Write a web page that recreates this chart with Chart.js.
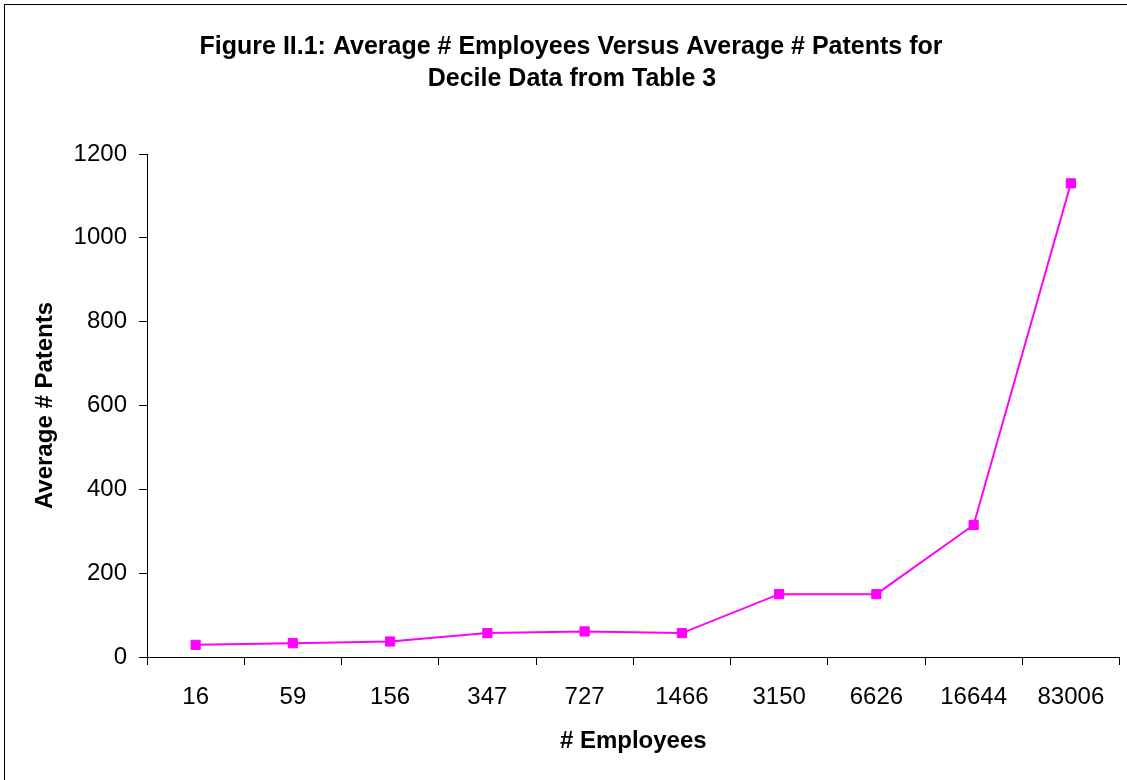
<!DOCTYPE html>
<html>
<head>
<meta charset="utf-8">
<script src="https://cdn.jsdelivr.net/npm/chart.js@4/dist/chart.umd.min.js"></script>
<style>
  html, body { margin: 0; padding: 0; background: #fff; }
  #wrap { position: relative; width: 1127px; height: 780px; }
</style>
</head>
<body>
<div id="wrap"><canvas id="c" width="1127" height="780"></canvas></div>
<script>
const titleLines = ["Figure II.1: Average # Employees Versus Average # Patents for", "Decile Data from Table 3"];
const categories = ["16", "59", "156", "347", "727", "1466", "3150", "6626", "16644", "83006"];
const avgPatents = [29, 33, 37, 57, 61, 57, 150, 150, 315, 1130];
const yTicks = [0, 200, 400, 600, 800, 1000, 1200];
const xTitle = "# Employees";
const yTitle = "Average # Patents";

const FONT = "'Liberation Sans', Arial, sans-serif";

const frameAndTitle = {
  id: 'frameAndTitle',
  beforeDraw(chart) {
    const ctx = chart.ctx;
    ctx.save();
    ctx.fillStyle = '#fff';
    ctx.fillRect(0, 0, chart.width, chart.height);
    ctx.strokeStyle = '#000';
    ctx.lineWidth = 1;
    ctx.strokeRect(4.5, 4.5, 1400, 1400);
    ctx.restore();
  },
  afterDraw(chart) {
    const ctx = chart.ctx;
    ctx.save();
    ctx.fillStyle = '#000';
    ctx.font = "bold 25px " + FONT;
    ctx.textAlign = 'center';
    ctx.textBaseline = 'alphabetic';
    ctx.fillText(titleLines[0], 571, 54);
    ctx.fillText(titleLines[1], 572, 86);
    ctx.restore();
  }
};

new Chart(document.getElementById('c'), {
  type: 'line',
  data: {
    labels: categories,
    datasets: [{
      data: avgPatents,
      borderColor: '#FF00FF',
      backgroundColor: '#FF00FF',
      borderWidth: 2,
      pointStyle: 'rect',
      pointRadius: 6.5,
      pointBorderWidth: 1,
      pointBackgroundColor: '#FF00FF',
      pointBorderColor: '#FF00FF',
      tension: 0,
      fill: false
    }]
  },
  options: {
    responsive: false,
    animation: false,
    devicePixelRatio: 1,
    layout: { padding: { left: 5, right: 2, top: 154, bottom: 0 } },
    plugins: {
      legend: { display: false },
      tooltip: { enabled: false },
      title: { display: false }
    },
    scales: {
      x: {
        type: 'category',
        offset: true,
        grid: { display: true, offset: true, drawOnChartArea: false, drawTicks: true, tickLength: 8, color: '#000', lineWidth: 1 },
        border: { display: true, color: '#000', width: 1 },
        ticks: { color: '#000', font: { family: FONT, size: 24 }, padding: 18, maxRotation: 0, autoSkip: false },
        title: { display: true, text: xTitle, color: '#000', font: { family: FONT, size: 24, weight: 'bold' }, padding: { top: 0, bottom: 24 } },
        afterFit(scale) { scale.height = 123; }
      },
      y: {
        min: 0,
        max: 1200,
        afterBuildTicks(scale) { scale.ticks = yTicks.map(v => ({ value: v })); },
        grid: { display: true, drawOnChartArea: false, drawTicks: true, tickLength: 8, color: '#000', lineWidth: 1 },
        border: { display: true, color: '#000', width: 1 },
        ticks: { color: '#000', font: { family: FONT, size: 24 }, padding: 12, callback: (v) => String(v) },
        title: { display: true, text: yTitle, color: '#000', font: { family: FONT, size: 24, weight: 'bold' }, padding: { top: 26, bottom: 0 } },
        afterFit(scale) { scale.width = 142; }
      }
    }
  },
  plugins: [frameAndTitle]
});
</script>
</body>
</html>
